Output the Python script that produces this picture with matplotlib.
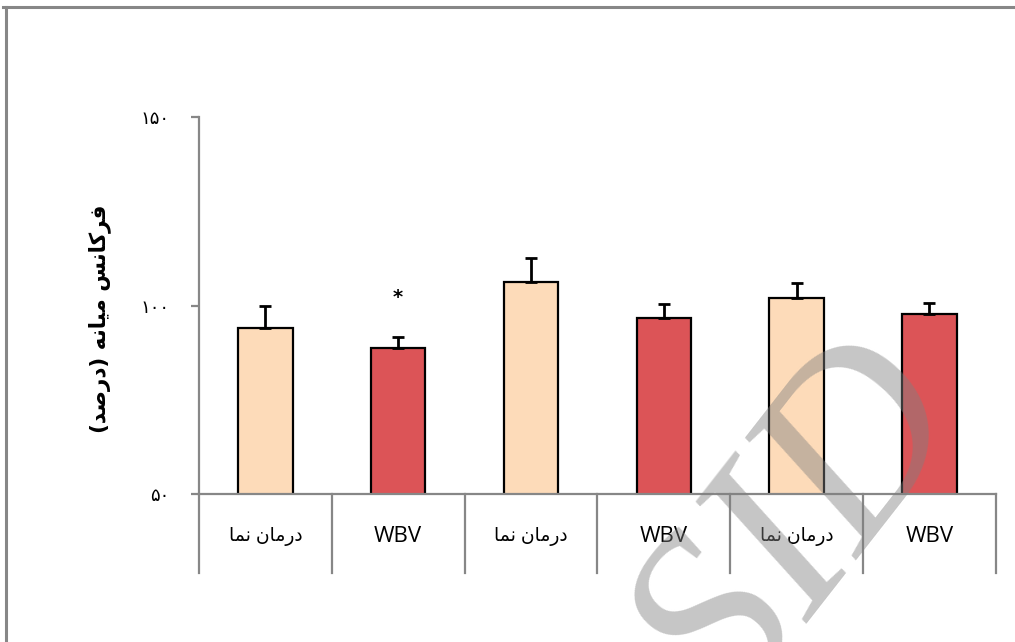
import matplotlib
matplotlib.use("Agg")
import matplotlib.pyplot as plt
from matplotlib.lines import Line2D
import matplotlib.transforms as mtransforms

# ---- data ----
# Persian labels, pre-shaped (Arabic presentation forms, visual order)
placebo = "\uFE8E\uFEE4\uFEE7 \uFEE5\uFE8E\uFEE3\uFEAD\uFEA9"   # درمان نما
categories = [placebo, "WBV", placebo, "WBV", placebo, "WBV"]
values = [94.0, 88.7, 106.2, 96.7, 102.0, 97.7]
errors = [6.0, 2.9, 6.4, 3.7, 4.0, 3.0]
bar_colors = ["#FDDBB9", "#DC5457", "#FDDBB9", "#DC5457", "#FDDBB9", "#DC5457"]
ytick_values = [50, 100, 150]
ytick_labels = ["\u06F5\u06F0", "\u06F1\u06F0\u06F0", "\u06F1\u06F5\u06F0"]
ylabel = ("(\uFEAA\uFEBB\uFEAD\uFEA9) \uFEEA\uFEE7\uFE8E\uFEF4\uFEE3 "
          "\uFEB2\uFEE7\uFE8E\uFEDB\uFEAE\uFED3")  # فرکانس میانه (درصد)
star_index = 1
star_value = 102.0

fig = plt.figure(figsize=(10.15, 6.42), dpi=100)
ax = fig.add_axes([0.196, 0.2305, 0.785, 0.5872])

x = list(range(len(categories)))
ax.bar(x, values, width=0.41, color=bar_colors, edgecolor="black", linewidth=1.6, zorder=2)
ax.errorbar(x, values, yerr=[[0] * len(errors), errors], fmt="none", ecolor="black",
            elinewidth=2.0, capsize=4.5, capthick=2.0, zorder=3)

ax.set_xlim(-0.5, len(categories) - 0.5)
ax.set_ylim(50, 150)

gray = "#878787"
for s in ["top", "right"]:
    ax.spines[s].set_visible(False)
for s in ["left", "bottom"]:
    ax.spines[s].set_color(gray)
    ax.spines[s].set_linewidth(1.6)

ax.set_yticks(ytick_values)
ax.set_yticklabels(ytick_labels, family=["DejaVu Sans"], fontsize=13)
ax.tick_params(axis="y", direction="out", length=6, width=1.6, color=gray, pad=15)
ax.set_xticks([])

# separators between categories
trans = mtransforms.blended_transform_factory(ax.transData, ax.transAxes)
for b in [i - 0.5 for i in range(len(categories) + 1)]:
    ax.add_line(Line2D([b, b], [0, -0.2095], transform=trans, color=gray,
                       linewidth=1.6, clip_on=False))
for xi, lab in zip(x, categories):
    size = 16 if lab.isascii() else 13.5
    ax.text(xi, -0.114, lab, transform=trans, ha="center", va="center",
            fontsize=size, family=["Open Sans", "DejaVu Sans"])

ax.text(star_index, star_value, "*", ha="center", va="center", fontsize=14,
        fontweight="bold", family=["DejaVu Sans"])

ax.set_ylabel(ylabel, fontsize=15.5, fontweight="bold", family=["DejaVu Sans"])
ax.yaxis.set_label_coords(-0.11, 0.465)

# outer frame (top and left)
fig.add_artist(Line2D([0.003, 1.0], [0.989, 0.989], transform=fig.transFigure,
                      color=gray, linewidth=2.2))
fig.add_artist(Line2D([0.006, 0.006], [0.0, 0.989], transform=fig.transFigure,
                      color=gray, linewidth=2.2))

# watermark
fig.text(0.79, 0.175, "SID", fontsize=178, family="Liberation Serif", style="italic",
         color="#808080", alpha=0.45, rotation=52, ha="center", va="center", zorder=10)

fig.savefig("out.png", dpi=100)
